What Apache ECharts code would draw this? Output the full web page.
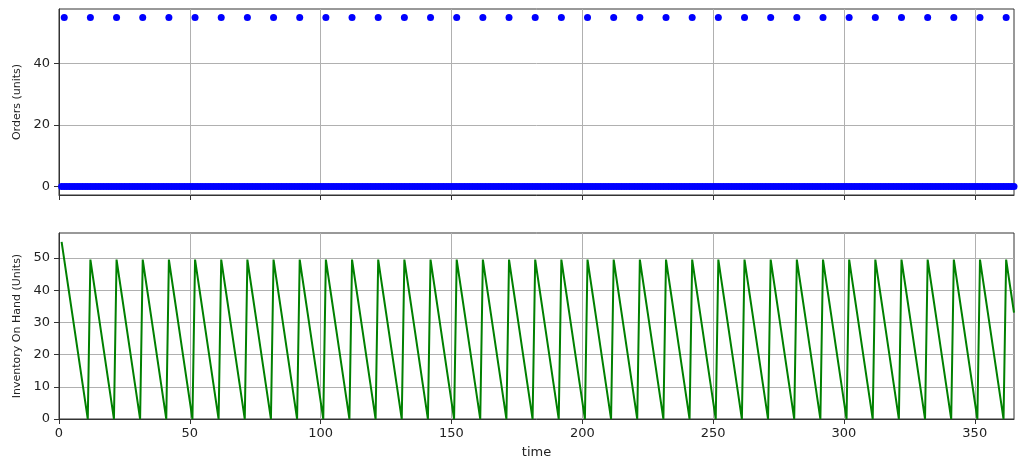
<!DOCTYPE html>
<html>
<head>
<meta charset="utf-8">
<script src="https://cdn.jsdelivr.net/npm/echarts@6/dist/echarts.min.js"></script>
<style>
html,body{margin:0;padding:0;background:#fff;}
#chart{width:1024px;height:473px;}
</style>
</head>
<body>
<div id="chart"></div>
<script>
// Day index (time axis)
const days = Array.from({length: 365}, (_, i) => i + 1);

// Orders (units) per day
const orders = [
  0,55,0,0,0,0,0,0,0,0,
  0,55,0,0,0,0,0,0,0,0,
  0,55,0,0,0,0,0,0,0,0,
  0,55,0,0,0,0,0,0,0,0,
  0,55,0,0,0,0,0,0,0,0,
  0,55,0,0,0,0,0,0,0,0,
  0,55,0,0,0,0,0,0,0,0,
  0,55,0,0,0,0,0,0,0,0,
  0,55,0,0,0,0,0,0,0,0,
  0,55,0,0,0,0,0,0,0,0,
  0,55,0,0,0,0,0,0,0,0,
  0,55,0,0,0,0,0,0,0,0,
  0,55,0,0,0,0,0,0,0,0,
  0,55,0,0,0,0,0,0,0,0,
  0,55,0,0,0,0,0,0,0,0,
  0,55,0,0,0,0,0,0,0,0,
  0,55,0,0,0,0,0,0,0,0,
  0,55,0,0,0,0,0,0,0,0,
  0,55,0,0,0,0,0,0,0,0,
  0,55,0,0,0,0,0,0,0,0,
  0,55,0,0,0,0,0,0,0,0,
  0,55,0,0,0,0,0,0,0,0,
  0,55,0,0,0,0,0,0,0,0,
  0,55,0,0,0,0,0,0,0,0,
  0,55,0,0,0,0,0,0,0,0,
  0,55,0,0,0,0,0,0,0,0,
  0,55,0,0,0,0,0,0,0,0,
  0,55,0,0,0,0,0,0,0,0,
  0,55,0,0,0,0,0,0,0,0,
  0,55,0,0,0,0,0,0,0,0,
  0,55,0,0,0,0,0,0,0,0,
  0,55,0,0,0,0,0,0,0,0,
  0,55,0,0,0,0,0,0,0,0,
  0,55,0,0,0,0,0,0,0,0,
  0,55,0,0,0,0,0,0,0,0,
  0,55,0,0,0,0,0,0,0,0,
  0,55,0,0,0
];

// Inventory on hand (units) per day
const inventory = [
  55,49.5,44,38.5,33,27.5,22,16.5,11,5.5,
  0,49.5,44,38.5,33,27.5,22,16.5,11,5.5,
  0,49.5,44,38.5,33,27.5,22,16.5,11,5.5,
  0,49.5,44,38.5,33,27.5,22,16.5,11,5.5,
  0,49.5,44,38.5,33,27.5,22,16.5,11,5.5,
  0,49.5,44,38.5,33,27.5,22,16.5,11,5.5,
  0,49.5,44,38.5,33,27.5,22,16.5,11,5.5,
  0,49.5,44,38.5,33,27.5,22,16.5,11,5.5,
  0,49.5,44,38.5,33,27.5,22,16.5,11,5.5,
  0,49.5,44,38.5,33,27.5,22,16.5,11,5.5,
  0,49.5,44,38.5,33,27.5,22,16.5,11,5.5,
  0,49.5,44,38.5,33,27.5,22,16.5,11,5.5,
  0,49.5,44,38.5,33,27.5,22,16.5,11,5.5,
  0,49.5,44,38.5,33,27.5,22,16.5,11,5.5,
  0,49.5,44,38.5,33,27.5,22,16.5,11,5.5,
  0,49.5,44,38.5,33,27.5,22,16.5,11,5.5,
  0,49.5,44,38.5,33,27.5,22,16.5,11,5.5,
  0,49.5,44,38.5,33,27.5,22,16.5,11,5.5,
  0,49.5,44,38.5,33,27.5,22,16.5,11,5.5,
  0,49.5,44,38.5,33,27.5,22,16.5,11,5.5,
  0,49.5,44,38.5,33,27.5,22,16.5,11,5.5,
  0,49.5,44,38.5,33,27.5,22,16.5,11,5.5,
  0,49.5,44,38.5,33,27.5,22,16.5,11,5.5,
  0,49.5,44,38.5,33,27.5,22,16.5,11,5.5,
  0,49.5,44,38.5,33,27.5,22,16.5,11,5.5,
  0,49.5,44,38.5,33,27.5,22,16.5,11,5.5,
  0,49.5,44,38.5,33,27.5,22,16.5,11,5.5,
  0,49.5,44,38.5,33,27.5,22,16.5,11,5.5,
  0,49.5,44,38.5,33,27.5,22,16.5,11,5.5,
  0,49.5,44,38.5,33,27.5,22,16.5,11,5.5,
  0,49.5,44,38.5,33,27.5,22,16.5,11,5.5,
  0,49.5,44,38.5,33,27.5,22,16.5,11,5.5,
  0,49.5,44,38.5,33,27.5,22,16.5,11,5.5,
  0,49.5,44,38.5,33,27.5,22,16.5,11,5.5,
  0,49.5,44,38.5,33,27.5,22,16.5,11,5.5,
  0,49.5,44,38.5,33,27.5,22,16.5,11,5.5,
  0,49.5,44,38.5,33
];

// Tick labels
const xTicks = [0, 50, 100, 150, 200, 250, 300, 350];
const ordersTicks = [0, 20, 40];
const inventoryTicks = [0, 10, 20, 30, 40, 50];

const FONT = 'DejaVu Sans';
const TXT = '#222';
const SPINE = '#333';
const GRIDC = '#b0b0b0';

function xAxisCfg(gridIndex, showLabels, name) {
  return {
    type: 'value', gridIndex: gridIndex, min: 0, max: 365,
    name: name || '', nameLocation: 'middle', nameGap: 27,
    nameTextStyle: {fontFamily: FONT, fontSize: 13, color: TXT},
    axisLine: {show: true, onZero: false, lineStyle: {color: SPINE, width: 1}},
    axisTick: {show: true, length: 5, inside: false, customValues: xTicks, lineStyle: {color: SPINE}},
    axisLabel: {show: showLabels, customValues: xTicks, margin: 8, fontFamily: FONT, fontSize: 13, color: TXT},
    splitLine: {show: true, lineStyle: {color: GRIDC, width: 1}}
  };
}
function yAxisCfg(gridIndex, min, max, ticks, name) {
  return {
    type: 'value', gridIndex: gridIndex, min: min, max: max,
    name: name, nameLocation: 'middle', nameGap: 35,
    nameTextStyle: {fontFamily: FONT, fontSize: 11, color: TXT},
    axisLine: {show: true, onZero: false, lineStyle: {color: SPINE, width: 1}},
    axisTick: {show: true, length: 5, inside: false, customValues: ticks, lineStyle: {color: SPINE}},
    axisLabel: {show: true, customValues: ticks, margin: 9, fontFamily: FONT, fontSize: 13, color: TXT},
    splitLine: {show: true, lineStyle: {color: GRIDC, width: 1}}
  };
}

// Every day also carries a zero-order record in the source plot (continuous band at 0)
const orderPoints = days.map((d, i) => [d, orders[i]])
  .concat(days.filter((d, i) => orders[i] > 0).map(d => [d, 0]));

const chart = echarts.init(document.getElementById('chart'), null, {renderer: 'canvas'});
chart.setOption({
  animation: false,
  backgroundColor: '#fff',
  grid: [
    {left: 59, top: 9, width: 955, height: 186, show: true, borderColor: SPINE, borderWidth: 1, backgroundColor: 'transparent'},
    {left: 59, top: 233, width: 955, height: 186, show: true, borderColor: SPINE, borderWidth: 1, backgroundColor: 'transparent'}
  ],
  xAxis: [xAxisCfg(0, false), xAxisCfg(1, true, 'time')],
  yAxis: [
    yAxisCfg(0, -2.75, 57.75, ordersTicks, 'Orders (units)'),
    yAxisCfg(1, 0, 57.75, inventoryTicks, 'Inventory On Hand (Units)')
  ],
  series: [
    {
      type: 'scatter', xAxisIndex: 0, yAxisIndex: 0,
      data: orderPoints,
      symbol: 'circle', symbolSize: 7,
      itemStyle: {color: '#0000ff', opacity: 1}
    },
    {
      type: 'line', xAxisIndex: 1, yAxisIndex: 1,
      data: days.map((d, i) => [d, inventory[i]]),
      showSymbol: false, symbol: 'none',
      lineStyle: {color: '#008000', width: 2},
      clip: true
    }
  ]
});
</script>
</body>
</html>
